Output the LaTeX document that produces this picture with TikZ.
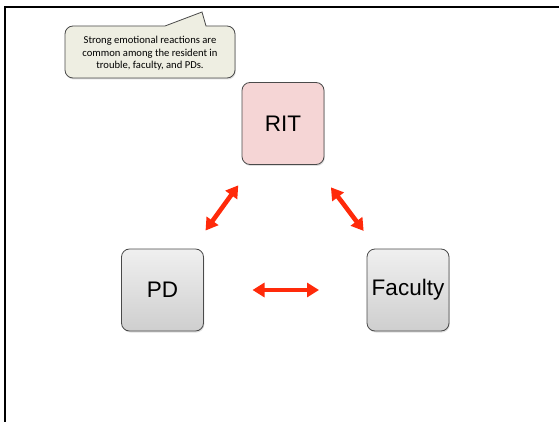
\documentclass[tikz,border=0pt]{standalone}
\usepackage{fontspec}
\setmainfont{Liberation Sans}
\newfontfamily\notefont{Carlito}
\usetikzlibrary{arrows.meta,shadows}
\definecolor{arrowred}{HTML}{FF2A0A}
\definecolor{ritpink}{HTML}{F5D5D5}
\definecolor{notefill}{HTML}{EEEEE2}
\definecolor{edgegray}{HTML}{4A4A4A}
\tikzset{
  rolebox/.style={draw=edgegray, line width=0.8pt, rounded corners=8pt,
    minimum width=82pt, minimum height=82pt, inner sep=0pt,
    font=\fontsize{22.5}{26}\selectfont,
    drop shadow={opacity=0.25, shadow xshift=0.8pt, shadow yshift=-1.5pt}},
  graybox/.style={rolebox, top color=gray!12, bottom color=gray!38},
  pinkbox/.style={rolebox, fill=ritpink},
  linkarrow/.style={draw=arrowred, line width=4.6pt,
    {Triangle[width=14pt,length=12pt]}-{Triangle[width=14pt,length=12pt]}},
  frameline/.style={line width=2pt, black}
}
\begin{document}
\begin{tikzpicture}[x=1pt,y=-1pt]
  \useasboundingbox (0,0) rectangle (559,422);
  \fill[white] (0,0) rectangle (559,422);

  % open frame: top and left edges
  \draw[frameline] (5,422) -- (5,7) -- (559,7);

  % speech-bubble note
  \draw[draw=edgegray, line width=0.8pt, fill=notefill,
        drop shadow={opacity=0.25, shadow xshift=0.8pt, shadow yshift=-1.5pt}]
    (202,12) -- (165,26) [rounded corners=8pt] -- (65,26) -- (65,78) -- (235,78)
    -- (235,26) [sharp corners] -- (206,26) -- cycle;
  \node[font=\notefont\fontsize{10.6}{12.5}\selectfont, align=center, inner sep=0pt]
    (note) at (150,53.5) {Strong emotional reactions are\\common among the resident in\\trouble, faculty, and PDs.};

  % the three roles
  \node[pinkbox] (rit) at (283,123.5) {RIT};
  \node[graybox] (pd)  at (162.5,290) {PD};
  \node[graybox] (fac) at (408,290)   {Faculty};

  % mutual relations
  \draw[linkarrow, shorten <=73.4pt, shorten >=76.3pt] (pd.center) -- (rit.center);
  \draw[linkarrow, shorten <=79.8pt, shorten >=73.9pt] (rit.center) -- (fac.center);
  \draw[linkarrow, shorten <=90pt, shorten >=89pt] (pd.center) -- (fac.center);
\end{tikzpicture}
\end{document}
